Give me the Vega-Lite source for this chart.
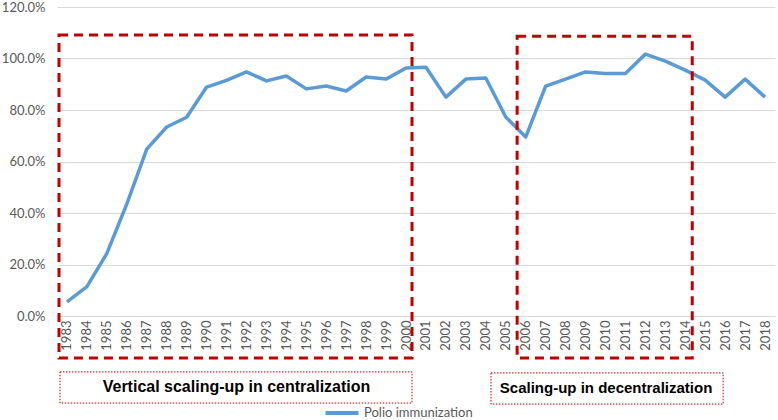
{
  "$schema": "https://vega.github.io/schema/vega-lite/v6.json",
  "width": 718,
  "height": 309,
  "autosize": {"type": "none"},
  "padding": {"left": 57, "top": 7, "right": 3, "bottom": 104},
  "background": "white",
  "config": {"view": {"stroke": null}, "font": "Lato"},
  "datasets": {
    "polio": [
      {"year": "1983", "value": 0.055, "series": "Polio immunization"},
      {"year": "1984", "value": 0.114, "series": "Polio immunization"},
      {"year": "1985", "value": 0.243, "series": "Polio immunization"},
      {"year": "1986", "value": 0.435, "series": "Polio immunization"},
      {"year": "1987", "value": 0.648, "series": "Polio immunization"},
      {"year": "1988", "value": 0.734, "series": "Polio immunization"},
      {"year": "1989", "value": 0.772, "series": "Polio immunization"},
      {"year": "1990", "value": 0.889, "series": "Polio immunization"},
      {"year": "1991", "value": 0.915, "series": "Polio immunization"},
      {"year": "1992", "value": 0.948, "series": "Polio immunization"},
      {"year": "1993", "value": 0.913, "series": "Polio immunization"},
      {"year": "1994", "value": 0.932, "series": "Polio immunization"},
      {"year": "1995", "value": 0.882, "series": "Polio immunization"},
      {"year": "1996", "value": 0.893, "series": "Polio immunization"},
      {"year": "1997", "value": 0.874, "series": "Polio immunization"},
      {"year": "1998", "value": 0.928, "series": "Polio immunization"},
      {"year": "1999", "value": 0.920, "series": "Polio immunization"},
      {"year": "2000", "value": 0.963, "series": "Polio immunization"},
      {"year": "2001", "value": 0.966, "series": "Polio immunization"},
      {"year": "2002", "value": 0.850, "series": "Polio immunization"},
      {"year": "2003", "value": 0.920, "series": "Polio immunization"},
      {"year": "2004", "value": 0.924, "series": "Polio immunization"},
      {"year": "2005", "value": 0.773, "series": "Polio immunization"},
      {"year": "2006", "value": 0.695, "series": "Polio immunization"},
      {"year": "2007", "value": 0.893, "series": "Polio immunization"},
      {"year": "2008", "value": 0.920, "series": "Polio immunization"},
      {"year": "2009", "value": 0.948, "series": "Polio immunization"},
      {"year": "2010", "value": 0.942, "series": "Polio immunization"},
      {"year": "2011", "value": 0.942, "series": "Polio immunization"},
      {"year": "2012", "value": 1.017, "series": "Polio immunization"},
      {"year": "2013", "value": 0.990, "series": "Polio immunization"},
      {"year": "2014", "value": 0.955, "series": "Polio immunization"},
      {"year": "2015", "value": 0.916, "series": "Polio immunization"},
      {"year": "2016", "value": 0.850, "series": "Polio immunization"},
      {"year": "2017", "value": 0.920, "series": "Polio immunization"},
      {"year": "2018", "value": 0.850, "series": "Polio immunization"}
    ],
    "periods": [
      {"start": 1982.6, "end": 2000.3, "top": 1.091, "bottom": -0.163},
      {"start": 2005.57, "end": 2014.35, "top": 1.086, "bottom": -0.163}
    ],
    "labelA": [
      {"start": 1982.65, "end": 2000.3, "top": -0.217, "bottom": -0.338, "mid": 1991.5, "text": "Vertical scaling-up in centralization"}
    ],
    "labelB": [
      {"start": 2004.26, "end": 2015.9, "top": -0.221, "bottom": -0.342, "mid": 2010.03, "text": "Scaling-up in decentralization"}
    ]
  },
  "resolve": {"scale": {"x": "independent"}},
  "layer": [
    {
      "data": {"name": "polio"},
      "mark": {"type": "line", "strokeWidth": 3.5, "strokeJoin": "round"},
      "encoding": {
        "x": {
          "field": "year", "type": "ordinal",
          "scale": {"type": "point", "padding": 0.5},
          "axis": {
            "title": null, "labelAngle": 270, "labelAlign": "right", "labelBaseline": "middle",
            "labelOverlap": false, "labelPadding": 4,
            "ticks": false, "domain": false, "grid": false,
            "labelColor": "#595959", "labelFontSize": 13, "labelFont": "Lato"
          }
        },
        "y": {
          "field": "value", "type": "quantitative",
          "scale": {"domain": [0, 1.2], "nice": false},
          "axis": {
            "title": null, "values": [0, 0.2, 0.4, 0.6, 0.8, 1.0, 1.2], "format": ".1%",
            "ticks": false, "domain": false, "grid": true, "gridColor": "#d9d9d9", "gridWidth": 1,
            "labelColor": "#595959", "labelFontSize": 13, "labelPadding": 12, "labelFont": "Lato"
          }
        },
        "color": {
          "field": "series", "type": "nominal",
          "scale": {"range": ["#5B9BD5"]},
          "legend": {
            "title": null, "orient": "none", "legendX": 266, "legendY": 387,
            "symbolType": "stroke", "symbolSize": 1090, "symbolStrokeWidth": 4,
            "labelFontSize": 13, "labelColor": "#595959", "labelOffset": 3, "labelFont": "Lato"
          }
        }
      }
    },
    {
      "layer": [
        {
          "data": {"name": "periods"},
          "mark": {"type": "rect", "fill": null, "stroke": "#C00000", "strokeWidth": 3, "strokeDash": [9, 6]},
          "encoding": {
            "x": {"field": "start", "type": "quantitative", "scale": {"domain": [1982.5, 2018.5], "nice": false, "zero": false}, "axis": null},
            "x2": {"field": "end"},
            "y": {"field": "top", "type": "quantitative"},
            "y2": {"field": "bottom"}
          }
        },
        {
          "data": {"name": "labelA"},
          "mark": {"type": "rect", "fill": "white", "stroke": "#C00000", "strokeWidth": 1, "strokeDash": [1.5, 1.5]},
          "encoding": {
            "x": {"field": "start", "type": "quantitative", "axis": null},
            "x2": {"field": "end"},
            "y": {"field": "top", "type": "quantitative"},
            "y2": {"field": "bottom"}
          }
        },
        {
          "data": {"name": "labelA"},
          "mark": {"type": "text", "font": "Liberation Sans", "fontWeight": "bold", "fontSize": 16, "color": "black", "align": "center", "baseline": "middle", "dy": 15},
          "encoding": {
            "x": {"field": "mid", "type": "quantitative", "axis": null},
            "y": {"field": "top", "type": "quantitative"},
            "text": {"field": "text"}
          }
        },
        {
          "data": {"name": "labelB"},
          "mark": {"type": "rect", "fill": "white", "stroke": "#C00000", "strokeWidth": 1, "strokeDash": [1.5, 1.5]},
          "encoding": {
            "x": {"field": "start", "type": "quantitative", "axis": null},
            "x2": {"field": "end"},
            "y": {"field": "top", "type": "quantitative"},
            "y2": {"field": "bottom"}
          }
        },
        {
          "data": {"name": "labelB"},
          "mark": {"type": "text", "font": "Liberation Sans", "fontWeight": "bold", "fontSize": 15, "color": "black", "align": "center", "baseline": "middle", "dy": 15},
          "encoding": {
            "x": {"field": "mid", "type": "quantitative", "axis": null},
            "y": {"field": "top", "type": "quantitative"},
            "text": {"field": "text"}
          }
        }
      ]
    }
  ]
}
